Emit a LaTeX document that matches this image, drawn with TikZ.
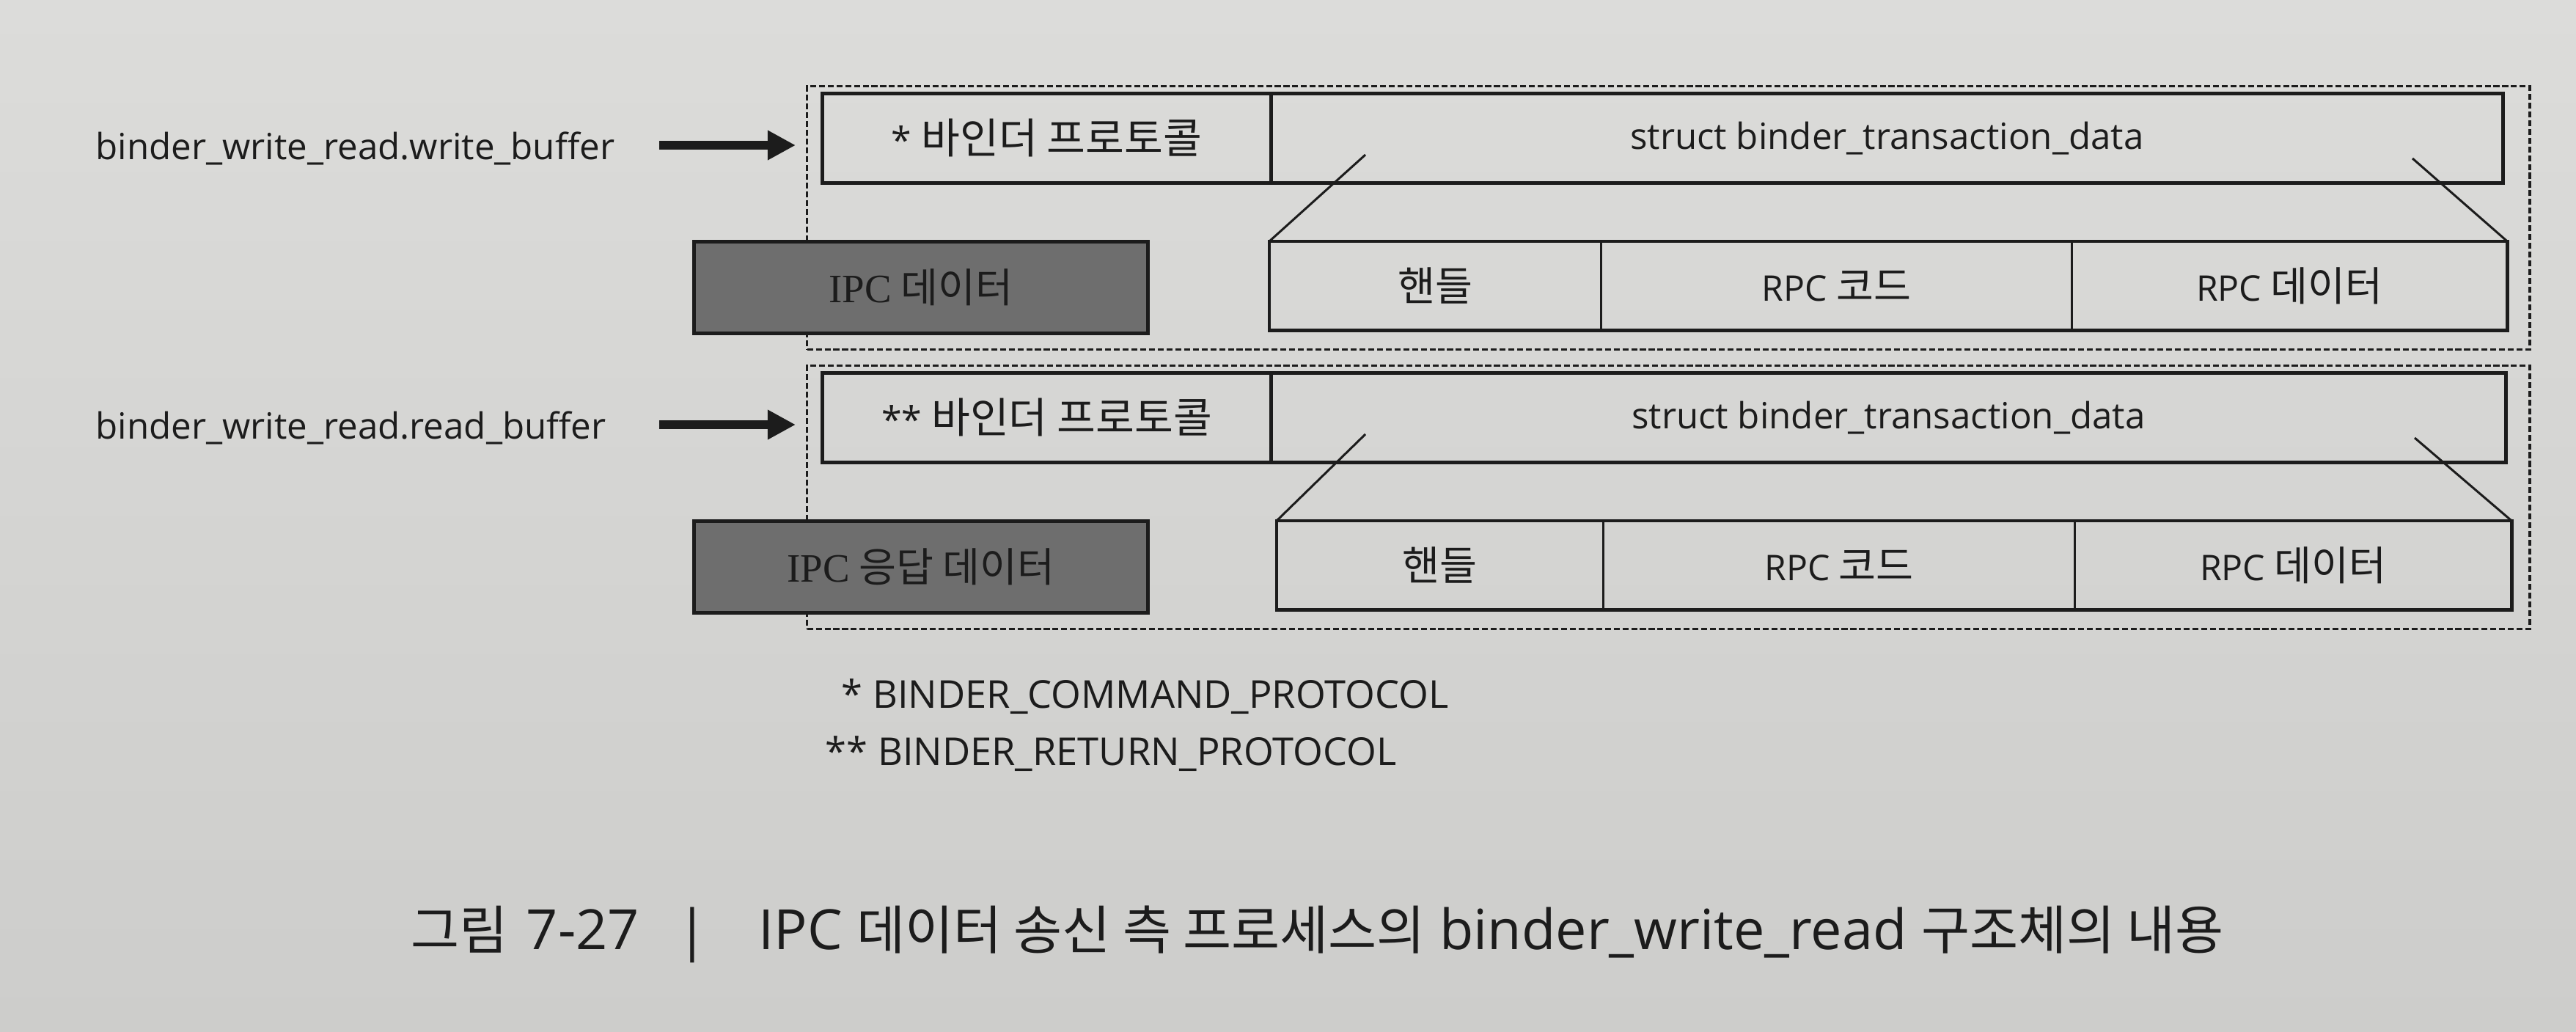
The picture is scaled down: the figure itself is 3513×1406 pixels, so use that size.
\documentclass[tikz,border=0pt]{standalone}
\usepackage{fontspec}
\setmainfont{Open Sans}
\newfontfamily\kr{Noto Sans CJK KR}[Scale=1.15]
\newfontfamily\krc{Noto Sans CJK KR}[Scale=0.95]
\newfontfamily\serifipc{Liberation Serif}[Scale=1.14]
\usetikzlibrary{arrows.meta}
\definecolor{papertop}{HTML}{DCDCDA}
\definecolor{paperbot}{HTML}{CDCDCB}
\definecolor{ink}{HTML}{1C1C1C}
\definecolor{ipcgray}{HTML}{6E6E6E}
\begin{document}
\begin{tikzpicture}[x=0.01cm,y=-0.01cm,
  lbl/.style={font=\fontsize{14pt}{16pt}\selectfont, text=ink, inner sep=0pt},
  notetext/.style={font=\fontsize{14.9pt}{17pt}\selectfont, text=ink, inner sep=0pt},
  captext/.style={font=\fontsize{21.5pt}{25pt}\selectfont, text=ink, inner sep=0pt},
  fieldbox/.style={draw=ink, line width=1.3pt, inner sep=0pt, anchor=north west,
    font=\fontsize{14pt}{16pt}\selectfont, text=ink},
  protobox/.style={fieldbox, font=\fontsize{14.2pt}{16pt}\selectfont,
    minimum width=6.12cm, minimum height=1.22cm},
  ipcbox/.style={fieldbox, font=\fontsize{13.7pt}{16pt}\selectfont, fill=ipcgray,
    minimum width=6.19cm, minimum height=1.25cm},
  cellbox/.style={inner sep=0pt, anchor=north west, minimum height=1.2cm,
    font=\fontsize{13.7pt}{16pt}\selectfont, text=ink},
  rowframe/.style={draw=ink, line width=1.3pt},
  divider/.style={draw=ink, line width=0.7pt},
  groupbox/.style={draw=ink, line width=0.9pt, dash pattern=on 2.3pt off 1.1pt,
    inner sep=0pt, anchor=north west, minimum width=23.48cm, minimum height=3.59cm},
  diag/.style={draw=ink, line width=0.85pt},
  bigarrow/.style={draw=ink, line width=3.4pt, -{Triangle[length=0.38cm,width=0.38cm]}}
]
\useasboundingbox (0,0) rectangle (3513,1406);
\shade[top color=papertop, bottom color=paperbot] (0,0) rectangle (3513,1406);

% ---------- group 1 ----------
\node[groupbox] (g1) at (1099,116) {};
\node[protobox] (p1) at (1119,125) {* {\kr 바인더 프로토콜}};
\node[fieldbox, minimum width=16.79cm, minimum height=1.22cm] (s1) at (1731,125)
  {struct binder\_transaction\_data};
\node[ipcbox] (ipc1) at (944,327) {{\serifipc IPC} {\kr 데이터}};
\node[cellbox, minimum width=4.51cm] (c11) at (1731,329) {\kr 핸들};
\node[cellbox, minimum width=6.40cm, anchor=north west] (c12) at (c11.north east) {RPC {\kr 코드}};
\node[cellbox, minimum width=5.92cm, anchor=north west] (c13) at (c12.north east) {RPC {\kr 데이터}};
\draw[rowframe] (c11.north west) rectangle (c13.south east);
\draw[divider] (c11.north east) -- (c11.south east);
\draw[divider] (c12.north east) -- (c12.south east);
\coordinate (d11) at (1862,211);
\coordinate (d12) at (3290,216);
\draw[diag] (d11) -- (c11.north west);
\draw[diag] (d12) -- (c13.north east);
\node[lbl, anchor=base west] (lab1) at (130,217) {binder\_write\_read.write\_buffer};
\coordinate (a1) at (899,198);
\draw[bigarrow, shorten >=0.14cm] (a1) -- (a1 -| g1.west);

% ---------- group 2 ----------
\node[groupbox] (g2) at (1099,497) {};
\node[protobox] (p2) at (1119,506) {** {\kr 바인더 프로토콜}};
\node[fieldbox, minimum width=16.83cm, minimum height=1.22cm] (s2) at (1731,506)
  {struct binder\_transaction\_data};
\node[ipcbox] (ipc2) at (944,708) {{\serifipc IPC} {\kr 응답 데이터}};
\node[cellbox, minimum width=4.44cm] (c21) at (1741,710) {\kr 핸들};
\node[cellbox, minimum width=6.41cm, anchor=north west] (c22) at (c21.north east) {RPC {\kr 코드}};
\node[cellbox, minimum width=5.94cm, anchor=north west] (c23) at (c22.north east) {RPC {\kr 데이터}};
\draw[rowframe] (c21.north west) rectangle (c23.south east);
\draw[divider] (c21.north east) -- (c21.south east);
\draw[divider] (c22.north east) -- (c22.south east);
\coordinate (d21) at (1862,592);
\coordinate (d22) at (3293,597);
\draw[diag] (d21) -- (c21.north west);
\draw[diag] (d22) -- (c23.north east);
\node[lbl, anchor=base west] (lab2) at (130,598) {binder\_write\_read.read\_buffer};
\coordinate (a2) at (899,579);
\draw[bigarrow, shorten >=0.14cm] (a2) -- (a2 -| g2.west);

% ---------- footnotes ----------
\node[notetext, anchor=base west] (fn1) at (1147,965) {* BINDER\_COMMAND\_PROTOCOL};
\node[notetext, anchor=base west] (fn2) at (1125,1043) {** BINDER\_RETURN\_PROTOCOL};

% ---------- caption ----------
\node[captext, anchor=base west] (capt) at (560,1294)
  {{\krc 그림}\hspace{0.25cm}7-27\hspace{0.52cm}|\hspace{0.69cm}IPC {\krc 데이터 송신 측 프로세스의} binder\_write\_read {\krc 구조체의 내용}};
\end{tikzpicture}
\end{document}
